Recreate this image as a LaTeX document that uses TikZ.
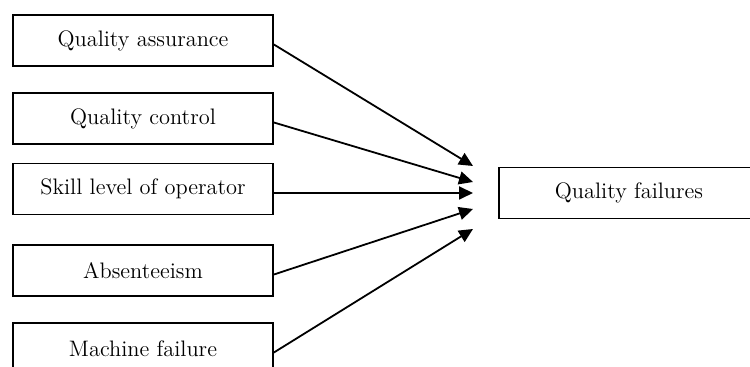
\documentclass[tikz,border=0pt]{standalone}
\usepackage{tikz}
\usetikzlibrary{
    arrows.meta,
    positioning
}

\tikzset{
    factor/.style={draw, line width=0.9pt, minimum width=130pt, minimum height=25.5pt,
        inner sep=0pt, font=\fontsize{11.2}{13}\selectfont},
    >={Triangle[length=7pt, width=6.5pt]}
}

\begin{document}
\begin{tikzpicture}[x=0.5pt, y=-0.5pt]
                        \clip (0, 0) rectangle (750, 367);
                        \node[factor] (qa) at (143, 40.5) {Quality assurance};
                        \node[factor] (qc) at (143, 118.5) {Quality control};
                        \node[factor] (sk) at (143, 189) {Skill level of operator};
                        \node[factor] (ab) at (143, 270.5) {Absenteeism};
                        \node[factor] (mf) at (143, 348.5) {Machine failure};
                        \node[factor] (qf) at (629, 193) {Quality failures};
                        \coordinate (t1) at (473, 166);
                        \coordinate (t2) at (473, 182);
                        \coordinate (t3) at (473, 193);
                        \coordinate (t4) at (473, 209);
                        \coordinate (t5) at (473, 229);
                        \draw[line width=0.9pt]
                        ([yshift=-2pt]qa.east) edge[->] (t1)
                        ([yshift=-2pt]qc.east) edge[->] (t2)
                        ([yshift=-2pt]sk.east) edge[->] (t3)
                        ([yshift=-2pt]ab.east) edge[->] (t4)
                        ([yshift=-2pt]mf.east) edge[->] (t5);
                    \end{tikzpicture}
\end{document}
